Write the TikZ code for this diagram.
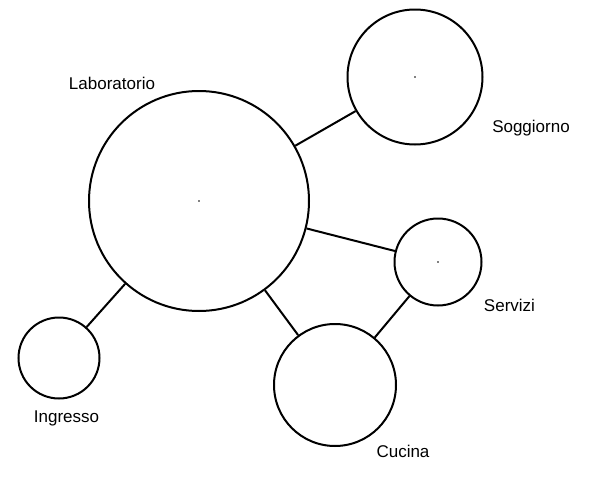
\documentclass[tikz,border=0pt]{standalone}
\usepackage{fontspec}
\setmainfont{Liberation Sans}
\usepackage{tikz}
\usetikzlibrary{positioning}
\tikzset{
  room/.style={
    circle, draw=black, line width=2pt,
    fill=white, inner sep=0pt
  },
  roomtxt/.style={
    font=\fontsize{17}{20}\selectfont,
    text=black, anchor=base, inner sep=0pt
  },
  link/.style={draw=black, line width=2pt}
}

\begin{document}
\begin{tikzpicture}[x=1pt, y=-1pt]

  \useasboundingbox (0,0) rectangle (590,480);

  % --- Stanze ---
  \node[room, minimum size=220pt] (lab) at (199,201) {};
  \node[room, minimum size=135pt] (sog) at (415,77) {};
  \node[room, minimum size=87pt] (ser) at (438,262) {};
  \node[room, minimum size=122pt] (cuc) at (335,385) {};
  \node[room, minimum size=81pt] (ing) at (59,358) {};

  % --- Punti centrali ---
  \fill (lab.center) circle (0.8);
  \fill (sog.center) circle (0.8);
  \fill (ser.center) circle (0.8);

  % --- Nomi ---
  \node[roomtxt] (tlab) at (112,89) {Laboratorio};
  \node[roomtxt] (tsog) at (531,132) {Soggiorno};
  \node[roomtxt] (tser) at (509.5,311) {Servizi};
  \node[roomtxt] (tcuc) at (403,457) {Cucina};
  \node[roomtxt] (ting) at (66.5,422) {Ingresso};

  % --- Collegamenti ---
  \draw[link] (lab) -- (sog);
  \draw[link] (lab) -- (ser);
  \draw[link] (lab) -- (cuc);
  \draw[link] (lab) -- (ing);
  \draw[link] (ser) -- (cuc);

\end{tikzpicture}
\end{document}
